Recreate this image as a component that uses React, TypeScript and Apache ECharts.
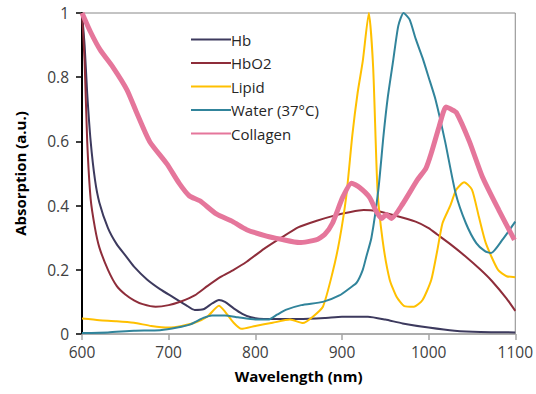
import React, { useEffect, useRef } from "react";
import * as echarts from "echarts";

const xTicks = [600, 700, 800, 900, 1000, 1100];

const hbWl = [600, 603, 606, 610, 615, 620, 630, 640, 650, 660, 675, 690, 705, 720, 730, 740, 750, 758, 765, 775, 785, 795, 810, 850, 880, 900, 930, 950, 970, 1000, 1030, 1060, 1100];
const hbAbs = [1.0, 0.9, 0.75, 0.6, 0.48, 0.41, 0.33, 0.28, 0.245, 0.21, 0.17, 0.14, 0.115, 0.09, 0.075, 0.077, 0.095, 0.106, 0.1, 0.08, 0.063, 0.052, 0.047, 0.047, 0.05, 0.054, 0.054, 0.045, 0.033, 0.02, 0.01, 0.006, 0.005];

const hbo2Wl = [600, 603, 606, 610, 615, 620, 630, 640, 650, 660, 670, 685, 700, 715, 730, 745, 760, 775, 790, 810, 830, 850, 870, 890, 910, 925, 940, 960, 985, 1000, 1010, 1025, 1042, 1060, 1073, 1090, 1100];
const hbo2Abs = [1.0, 0.85, 0.6, 0.42, 0.33, 0.27, 0.2, 0.15, 0.123, 0.105, 0.093, 0.085, 0.09, 0.102, 0.12, 0.15, 0.178, 0.2, 0.225, 0.265, 0.3, 0.333, 0.352, 0.368, 0.38, 0.386, 0.383, 0.37, 0.35, 0.33, 0.31, 0.28, 0.243, 0.2, 0.165, 0.11, 0.072];

const lipidWl = [600, 620, 640, 660, 680, 700, 715, 730, 745, 758, 765, 775, 784, 800, 820, 840, 855, 866, 878, 889, 897, 905, 912, 918, 924, 931, 936, 941, 947, 955, 963, 972, 983, 993, 1003, 1010, 1016, 1025, 1032, 1041, 1050, 1058, 1066, 1080, 1090, 1100];
const lipidAbs = [0.048, 0.043, 0.04, 0.035, 0.025, 0.02, 0.025, 0.035, 0.055, 0.088, 0.07, 0.035, 0.016, 0.025, 0.035, 0.045, 0.034, 0.053, 0.085, 0.19, 0.29, 0.43, 0.62, 0.75, 0.85, 1.0, 0.83, 0.45, 0.29, 0.17, 0.116, 0.087, 0.085, 0.106, 0.168, 0.26, 0.345, 0.4, 0.45, 0.473, 0.45, 0.365, 0.283, 0.2, 0.18, 0.177];

const waterWl = [600, 630, 660, 690, 710, 725, 740, 750, 765, 780, 800, 815, 825, 835, 853, 878, 897, 910, 917, 924, 928, 934, 942, 948, 953, 959, 965, 971, 978, 985, 993, 1000, 1008, 1019, 1031, 1043, 1055, 1065, 1072, 1085, 1100];
const waterAbs = [0.003, 0.005, 0.01, 0.012, 0.02, 0.03, 0.05, 0.058, 0.058, 0.052, 0.045, 0.045, 0.06, 0.075, 0.09, 0.1, 0.12, 0.145, 0.16, 0.2, 0.24, 0.3, 0.45, 0.62, 0.74, 0.85, 0.96, 1.0, 0.98, 0.92, 0.86, 0.8, 0.73, 0.6, 0.44, 0.345, 0.283, 0.258, 0.252, 0.293, 0.35];

const collagenWl = [600, 610, 621, 636, 652, 663, 678, 698, 712, 724, 736, 755, 774, 790, 813, 830, 851, 870, 880, 889, 901, 911, 920, 932, 940, 946, 951, 957, 970, 987, 997, 1003, 1012, 1020, 1026, 1032, 1047, 1062, 1081, 1099];
const collagenAbs = [1.0, 0.94, 0.885, 0.83, 0.76, 0.69, 0.6, 0.53, 0.47, 0.43, 0.415, 0.374, 0.35, 0.325, 0.305, 0.295, 0.285, 0.293, 0.31, 0.345, 0.427, 0.47, 0.457, 0.425, 0.38, 0.36, 0.372, 0.36, 0.405, 0.48, 0.517, 0.563, 0.645, 0.707, 0.7, 0.69, 0.6, 0.49, 0.386, 0.293];

const seriesDefs = [
  { name: "Hb", wl: hbWl, abs: hbAbs, color: "#3d3a5e", width: 2 },
  { name: "HbO2", wl: hbo2Wl, abs: hbo2Abs, color: "#8e2d3a", width: 2 },
  { name: "Lipid", wl: lipidWl, abs: lipidAbs, color: "#ffc000", width: 2 },
  { name: "Water (37°C)", wl: waterWl, abs: waterAbs, color: "#31849b", width: 2 },
  { name: "Collagen", wl: collagenWl, abs: collagenAbs, color: "#e5769b", width: 5 },
];

const FONT = "'Open Sans', 'Noto Sans', sans-serif";

export default function App() {
  const ref = useRef<HTMLDivElement>(null);
  useEffect(() => {
    if (!ref.current) return;
    const chart = echarts.init(ref.current, null, { renderer: "svg" });
    chart.setOption({
      animation: false,
      backgroundColor: "#ffffff",
      grid: {
        left: 82,
        right: 20,
        top: 13,
        bottom: 60,
        show: true,
        borderColor: "#888888",
        borderWidth: 1,
        containLabel: false,
      },
      legend: {
        left: 185,
        top: 27,
        orient: "vertical",
        itemWidth: 40,
        itemHeight: 14,
        itemGap: 8.5,
        itemStyle: { opacity: 0 },
        textStyle: { fontFamily: FONT, fontSize: 15, color: "#262626", padding: [0, 0, 0, -5] },
        data: seriesDefs.map((s) => s.name),
      },
      xAxis: {
        type: "value",
        min: 600,
        max: 1100,
        interval: 100,
        name: "Wavelength (nm)",
        nameLocation: "middle",
        nameGap: 34,
        nameTextStyle: { fontFamily: FONT, fontSize: 15, fontWeight: "bold", color: "#000" },
        axisLine: { show: true, lineStyle: { color: "#a6a6a6", width: 1.5 } },
        axisTick: { show: true, length: 6, lineStyle: { color: "#a6a6a6", width: 1.5 } },
        axisLabel: {
          fontFamily: FONT,
          fontSize: 15.5,
          color: "#404040",
          margin: 10,
          formatter: (v: number) => (xTicks.includes(v) ? String(v) : ""),
        },
        splitLine: { show: false },
      },
      yAxis: {
        type: "value",
        min: 0,
        max: 1,
        interval: 0.2,
        name: "Absorption (a.u.)",
        nameLocation: "middle",
        nameGap: 55,
        nameTextStyle: { fontFamily: FONT, fontSize: 15, fontWeight: "bold", color: "#000" },
        axisLine: { show: true, lineStyle: { color: "#000", width: 2 } },
        axisTick: { show: true, length: 6, lineStyle: { color: "#000", width: 1.5 } },
        axisLabel: { fontFamily: FONT, fontSize: 15.5, color: "#404040", margin: 13 },
        splitLine: { show: false },
      },
      series: seriesDefs.map((s) => ({
        name: s.name,
        type: "line",
        symbol: "none",
        smooth: 0.2,
        data: s.wl.map((w, i) => [w, s.abs[i]]),
        lineStyle: { color: s.color, width: s.width },
        itemStyle: { color: s.color },
      })),
    });
    return () => chart.dispose();
  }, []);
  return (
    <div
      ref={ref}
      style={{ position: "fixed", left: 0, top: 0, width: 536, height: 394 }}
    />
  );
}
